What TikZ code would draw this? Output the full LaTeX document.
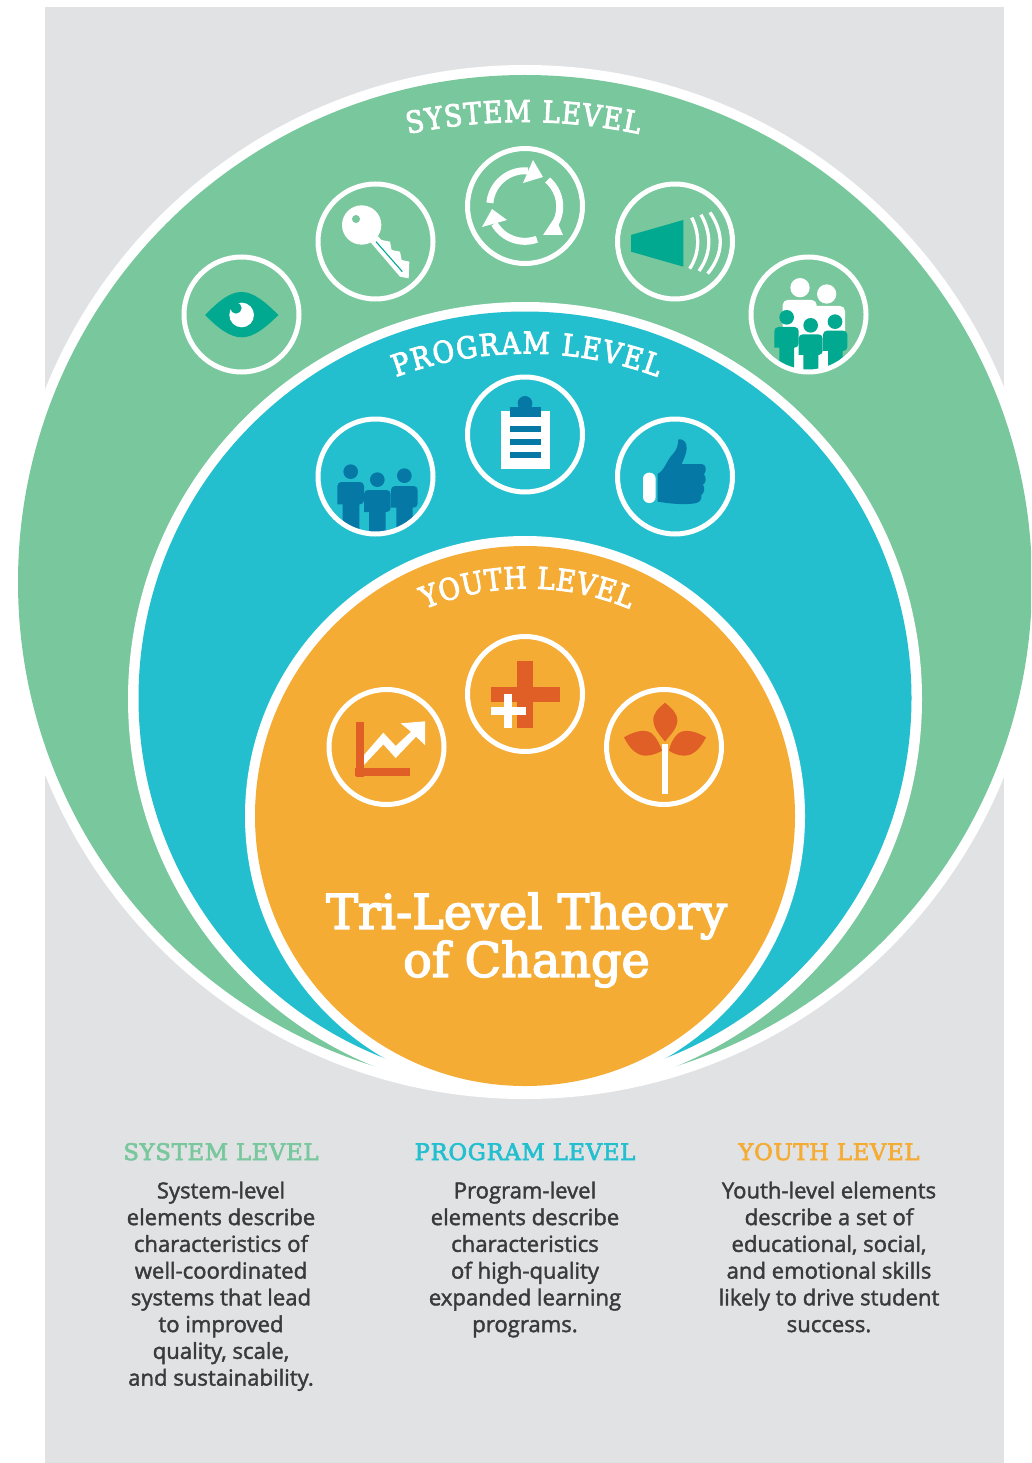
\documentclass[tikz,border=0pt]{standalone}
\usepackage{fontspec}
\usetikzlibrary{decorations.text}
\setmainfont{Open Sans}
\newfontfamily\slabf{DejaVu Serif}[FakeBold=3,FakeStretch=0.88]
\newfontfamily\slabb{DejaVu Serif}[FakeBold=3.2]
\newfontfamily\slabh{DejaVu Serif}[FakeBold=3,LetterSpace=3.2]
\newfontfamily\bodyf{Open Sans}[FakeBold=1.8]
\definecolor{pagegray}{HTML}{E1E2E4}
\definecolor{sysgreen}{HTML}{78C79D}
\definecolor{probl}{HTML}{24BFCF}
\definecolor{youor}{HTML}{F5AC35}
\definecolor{teal1}{HTML}{00A990}
\definecolor{navy1}{HTML}{0678A6}
\definecolor{rust}{HTML}{DF5F26}
\definecolor{ink}{HTML}{3A3A3B}
\tikzset{
  ring/.style={circle,draw=white,line width=5pt,minimum size=115pt,inner sep=0pt},
  zoomed/.style={x=0.33333pt,y=-0.33333pt},
  headline/.style={font=\slabh\fontsize{22.7}{26}\selectfont,anchor=base},
  bodytext/.style={font=\bodyf\fontsize{22.1}{26.75}\selectfont\color{ink},align=center,anchor=north},
}
\newcommand{\manfig}[8]{% colour, head x, head y, body left, right, top, arm bottom, legs
  \fill[#1] (#2,#3) circle (22);
  \fill[#1,rounded corners=4pt] (#4,#7) -- (#4,#6) -- (#5,#6) -- (#5,#7) [sharp corners] -- #8 -- cycle;
}
\begin{document}
\begin{tikzpicture}[x=1pt,y=-1pt]
\useasboundingbox (0,0) rectangle (1031,1463);
\clip (0,0) rectangle (1031,1463);
\fill[pagegray] (45,7) rectangle (1004,1463);
% nested discs
\fill[white] (525,582) circle (517);
\fill[sysgreen] (525,582) circle (507);
\fill[white] (525,699) circle (397);
\fill[probl] (525,698) circle (386.5);
\fill[white] (525,816) circle (280);
\fill[youor] (525,816) circle (270);
% arc titles
\path[decoration={text along path,text align={fit to path},text={|\slabf\fontsize{30}{30}\selectfont\color{white}|SYSTEM LEVEL}},decorate]
  (408,134) arc[start angle=101.9,end angle=78.1,radius=560pt];
\path[decoration={text along path,text align={fit to path},text={|\slabf\fontsize{30}{30}\selectfont\color{white}|PROGRAM LEVEL}},decorate]
  (396,377) arc[start angle=110.3,end angle=69.7,radius=377pt];
\path[decoration={text along path,text align={fit to path},text={|\slabf\fontsize{30}{30}\selectfont\color{white}|YOUTH LEVEL}},decorate]
  (425,609) arc[start angle=112.7,end angle=67.3,radius=265pt];
% eye and key icons
\begin{scope}[shift={(170,80)},zoomed]
  \fill[teal1] (105,705) .. controls (150,660) and (180,636) .. (215,636) .. controls (250,636) and (285,665) .. (325,705) .. controls (285,745) and (250,772) .. (215,772) .. controls (180,772) and (145,745) .. (105,705) -- cycle;
  \fill[white] (215,705) circle (37);
  \fill[teal1] (198,684) circle (17);
  \fill[white] (575,435) circle (59);
  \fill[sysgreen] (558,417) circle (12);
  \fill[white] (600,485) -- (690,590) -- (716,595) -- (718,545) -- (695,540) -- (690,515) -- (665,510) -- (660,485) -- (635,480) -- (620,465) -- cycle;
  \draw[teal1,line width=1.1pt] (618,485) -- (697,575);
\end{scope}
% cycle icon
\begin{scope}
  \draw[white,line width=7pt] (489.9,202.9) arc[start angle=175,end angle=85,radius=35.2pt];
  \draw[white,line width=7pt] (547.6,180) arc[start angle=49,end angle=-38,radius=35.2pt];
  \draw[white,line width=7pt] (536.9,239.2) arc[start angle=-70,end angle=-150,radius=35.2pt];
  \fill[white] (533,160) -- (543,177) -- (523,183) -- cycle;
  \fill[white] (543,235) -- (563,235) -- (555,217) -- cycle;
  \fill[white] (507,220) -- (482,227) -- (492,209) -- cycle;
\end{scope}
% horn and family icons
\begin{scope}[shift={(520,80)},zoomed]
  \fill[teal1] (333,465) -- (490,420) -- (490,560) -- (333,515) -- cycle;
  \draw[white,line width=3.3pt] (515,413) .. controls (540,460) and (540,520) .. (509,566);
  \draw[white,line width=3.3pt] (543,404) .. controls (575,460) and (575,520) .. (537,573);
  \draw[white,line width=3.3pt] (570,397) .. controls (612,460) and (612,520) .. (563,581);
  \begin{scope}
    \clip (866,704) circle (170);
    \fill[white] (840,623) circle (29);
    \fill[white] (920,642) circle (29);
    \fill[white,rounded corners=5pt] (788,800) -- (788,660) -- (890,660) -- (890,800) -- cycle;
    \fill[white,rounded corners=5pt] (860,800) -- (860,678) -- (975,678) -- (975,800) -- cycle;
    \fill[white] (815,790) rectangle (930,880);
    \manfig{teal1}{800}{712}{763}{836}{741}{803}{(822,803) -- (822,880) -- (778,880) -- (778,803)}
    \manfig{teal1}{945}{725}{909}{982}{752}{813}{(968,813) -- (968,880) -- (924,880) -- (924,813)}
    \manfig{teal1}{872}{736}{836}{908}{763}{825}{(895,825) -- (895,880) -- (850,880) -- (850,825)}
  \end{scope}
\end{scope}
% program icons
\begin{scope}[shift={(300,320)},zoomed]
  \begin{scope}
    \clip (226,470) circle (170);
    \manfig{navy1}{152}{455}{112}{192}{486}{553}{(178,553) -- (178,650) -- (128,650) -- (128,553)}
    \manfig{navy1}{313}{467}{273}{353}{498}{563}{(338,563) -- (338,650) -- (289,650) -- (289,563)}
    \manfig{navy1}{232}{479}{192}{272}{510}{576}{(257,576) -- (257,650) -- (207,650) -- (207,576)}
  \end{scope}
  \fill[white] (603,273) rectangle (750,446);
  \fill[navy1] (675,250) circle (22);
  \fill[navy1] (630,261) rectangle (723,291);
  \fill[navy1] (630,318) rectangle (723,336);
  \fill[navy1] (630,357) rectangle (723,375);
  \fill[navy1] (630,396) rectangle (723,414);
  \fill[white,rounded corners=6pt] (1029,458) rectangle (1067,549);
  \fill[navy1] (1073,462) .. controls (1095,450) and (1100,420) .. (1118,403) .. controls (1130,390) and (1135,375) .. (1135,358) .. controls (1150,355) and (1162,368) .. (1160,388) .. controls (1158,405) and (1150,420) .. (1145,432) -- (1205,432) .. controls (1218,432) and (1222,452) .. (1212,463) .. controls (1220,472) and (1218,490) .. (1209,494) .. controls (1216,505) and (1212,520) .. (1204,525) .. controls (1206,540) and (1198,548) .. (1185,550) .. controls (1150,556) and (1105,550) .. (1073,545) -- cycle;
\end{scope}
% youth icons
\begin{scope}[shift={(310,620)},zoomed]
  \fill[white] (162,405) -- (220,338) -- (257,378) -- (303,335) -- (272,310) -- (345,304) -- (345,375) -- (318,350) -- (257,414) -- (220,373) -- (162,435) -- cycle;
  \fill[rust] (138,306) rectangle (162,470);
  \fill[rust] (135,444) rectangle (300,468);
  \fill[rust] (621,124) rectangle (670,323);
  \fill[rust] (542,201) rectangle (750,247);
  \fill[white] (582,222) rectangle (607,323);
  \fill[white] (542,261) rectangle (647,285);
  \fill[rust] (1065,248) .. controls (1045,265) and (1028,280) .. (1030,303) .. controls (1032,330) and (1055,350) .. (1065,365) .. controls (1075,350) and (1100,330) .. (1102,303) .. controls (1103,280) and (1085,265) .. (1065,248) -- cycle;
  \fill[rust] (942,352) .. controls (970,335) and (1005,325) .. (1025,340) .. controls (1042,355) and (1050,375) .. (1056,392) .. controls (1035,405) and (1005,412) .. (985,402) .. controls (965,392) and (952,372) .. (942,352) -- cycle;
  \fill[rust] (1188,352) .. controls (1160,335) and (1125,325) .. (1105,340) .. controls (1088,355) and (1080,375) .. (1077,392) .. controls (1095,405) and (1125,412) .. (1145,402) .. controls (1165,392) and (1178,372) .. (1188,352) -- cycle;
  \fill[white] (1056,372) rectangle (1074,522);
\end{scope}
% rings
\node[ring] (eye) at (241.5,314.5) {};
\node[ring] (key) at (375.5,241.5) {};
\node[ring] (cyc) at (525,206) {};
\node[ring] (horn) at (675,241.5) {};
\node[ring] (fam) at (808.5,314.5) {};
\node[ring] (crew) at (375.5,476.5) {};
\node[ring] (clipb) at (525,434.5) {};
\node[ring] (thumb) at (675,476.5) {};
\node[ring] (chart) at (386.5,747) {};
\node[ring] (plus) at (525,694) {};
\node[ring] (plant) at (664,747) {};
% centre title
\node[font=\slabb\fontsize{47.7}{48}\selectfont,text=white,align=center,anchor=north] (title) at (526.5,889) {Tri-Level Theory\\of Change};
% columns
\node[headline,text=sysgreen] (h1) at (221,1160) {SYSTEM LEVEL};
\node[headline,text=probl] (h2) at (525,1160) {PROGRAM LEVEL};
\node[headline,text=youor] (h3) at (829,1160) {YOUTH LEVEL};
\node[bodytext] (b1) at (221,1178) {System-level\\elements describe\\characteristics of\\well-coordinated\\systems that lead\\to improved\\quality, scale,\\and sustainability.};
\node[bodytext] (b2) at (525,1178) {Program-level\\elements describe\\characteristics\\of high-quality\\expanded learning\\programs.};
\node[bodytext] (b3) at (829,1178) {Youth-level elements\\describe a set of\\educational, social,\\and emotional skills\\likely to drive student\\success.};
\end{tikzpicture}
\end{document}
